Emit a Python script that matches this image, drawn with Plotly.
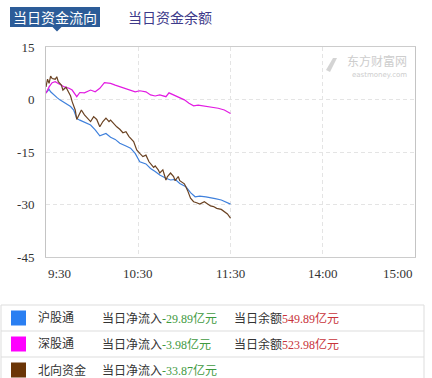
import plotly.graph_objects as go

# Intraday northbound flow, minutes after 9:30 (the lunch break is skipped on the axis)
hu_minutes = [0, 2, 3, 5, 7, 9, 11, 14, 16, 18, 20, 22, 25, 29, 32, 35, 39, 42, 45, 48,
              52, 55, 58, 61, 65, 68, 71, 74, 78, 81, 84, 87, 91, 94, 97, 100, 104, 107,
              110, 114, 117, 120]
hu_flow = [1.9, 2.9, 2.2, 1.3, 0.6, -0.1, -0.6, -1.3, -2.0, -3.0, -5.4, -5.9, -6.6, -7.3,
           -8.7, -10.4, -9.7, -10.8, -11.4, -12.5, -13.3, -13.9, -15.4, -17.8, -18.4,
           -19.7, -20.6, -21.6, -22.5, -23.0, -22.8, -24.0, -24.9, -26.6, -27.8, -27.6,
           -27.8, -28.0, -28.3, -28.7, -29.2, -29.89]

shen_minutes = [0, 2, 4, 6, 8, 10, 12, 15, 17, 20, 22, 25, 29, 32, 35, 38, 42, 45, 48, 52,
                55, 58, 61, 65, 68, 71, 74, 78, 80, 83, 86, 90, 93, 96, 99, 103, 106, 109,
                112, 116, 120]
shen_flow = [1.8, 3.6, 4.8, 5.1, 4.6, 4.1, 3.6, 3.2, 2.7, 0.8, 2.0, 1.9, 2.7, 2.2, 3.2, 4.8,
             4.6, 4.1, 3.7, 3.2, 2.7, 2.2, 2.5, 2.2, 1.3, 1.0, 1.3, 0.8, 1.9, 1.3, 0.8, -0.1,
             -1.1, -1.8, -1.6, -1.9, -2.0, -2.2, -2.5, -3.0, -3.98]

north_minutes = [0, 1, 2, 3, 4, 6, 7, 8, 10, 11, 13, 15, 16, 17, 19, 20, 22, 23, 25, 27,
                 29, 31, 33, 35, 37, 39, 41, 42, 44, 46, 48, 50, 52, 54, 57, 59, 61, 63, 65,
                 67, 70, 71, 73, 74, 76, 78, 79, 81, 83, 84, 86, 87, 90, 92, 94, 96, 98, 100,
                 103, 105, 107, 109, 111, 114, 116, 118, 120]
north_flow = [3.6, 5.8, 4.6, 6.7, 6.0, 5.8, 6.5, 5.1, 4.1, 2.7, 3.5, 1.9, 1.0, -0.6, -3.0,
              -5.7, -3.9, -3.0, -4.4, -5.3, -6.3, -4.9, -5.7, -7.8, -6.3, -5.3, -6.3, -5.9,
              -7.0, -7.8, -8.5, -9.5, -9.2, -10.6, -12.0, -14.4, -15.4, -16.3, -15.9, -17.8,
              -19.4, -19.0, -20.1, -21.0, -20.1, -23.0, -22.0, -21.0, -22.0, -23.2, -22.0,
              -23.2, -24.1, -25.9, -28.2, -29.2, -29.5, -29.9, -29.2, -29.9, -30.4, -30.6,
              -31.1, -31.4, -32.0, -32.7, -33.87]

x_tick_pos = [0, 60, 120, 180, 240]
x_tick_text = ["9:30", "10:30", "11:30", "14:00", "15:00"]
y_ticks = [15, 0, -15, -30, -45]

series_names = ["沪股通", "深股通", "北向资金"]
net_inflow = ["-29.89", "-3.98", "-33.87"]
balance = ["549.89", "523.98", None]

W, H = 432, 378
L, R, T, B = 46, 17, 47, 121
PW, PH = W - L - R, H - T - B


def px(xp):
    return (xp - L) / PW


def py(yp):
    return (H - B - yp) / PH


line_colors = ["#3f80dc", "#e21be2", "#6a4222"]
swatch_colors = ["#2a7ff2", "#ff00ff", "#6b3506"]
CJK = "Liberation Serif, Noto Sans CJK SC"

fig = go.Figure()
for xs, ys, c, n in [(hu_minutes, hu_flow, line_colors[0], series_names[0]),
                     (shen_minutes, shen_flow, line_colors[1], series_names[1]),
                     (north_minutes, north_flow, line_colors[2], series_names[2])]:
    fig.add_trace(go.Scatter(x=xs, y=ys, mode="lines", name=n,
                             line=dict(color=c, width=1.2), hoverinfo="skip"))

shapes = []
annotations = []


def label(text, x, y, size, color, family=CJK, xanchor="left", xref="paper"):
    annotations.append(dict(text=text, xref=xref, yref="paper", x=x, y=y,
                            xanchor=xanchor, yanchor="middle", showarrow=False,
                            font=dict(family=family, size=size, color=color)))


# header tabs
shapes.append(dict(type="rect", xref="paper", yref="paper", x0=px(10), x1=px(100),
                   y0=py(27), y1=py(7), fillcolor="#2c5c98", line=dict(width=0)))
shapes.append(dict(type="path", xref="paper", yref="paper",
                   path=f"M {px(52)} {py(26.5)} L {px(62)} {py(26.5)} L {px(57)} {py(31.5)} Z",
                   fillcolor="#2c5c98", line=dict(width=0)))
label("当日资金流向", px(55), py(17), 14, "white", "Noto Sans CJK SC", "center")
label("当日资金余额", px(170), py(17), 14, "#3d3a8a", "Noto Sans CJK SC", "center")

# watermark
shapes.append(dict(type="path", xref="paper", yref="paper",
                   path=(f"M {px(326)} {py(70)} L {px(333)} {py(58)} L {px(337)} {py(58)} "
                         f"L {px(330)} {py(72)} Z"),
                   fillcolor="#d4d4d4", line=dict(width=0)))
label("东方财富网", px(409), py(60), 12, "#cdcdcd", "Noto Sans CJK SC", "right")
label("eastmoney.com", px(409), py(75), 7, "#cdcdcd", "DejaVu Sans", "right")

# time labels along the bottom
anchors = ["left", "center", "center", "center", "right"]
for pos, txt, a in zip(x_tick_pos, x_tick_text, anchors):
    label(txt, pos, py(273), 13, "#333", "Liberation Serif", a, xref="x")

# summary table
row_top = [305, 331, 357]
row_h = 26
shapes.append(dict(type="rect", xref="paper", yref="paper", x0=px(1), x1=px(424),
                   y0=py(384), y1=py(305), line=dict(color="#dddddd", width=1)))
for yt in row_top[1:]:
    shapes.append(dict(type="line", xref="paper", yref="paper", x0=px(1), x1=px(424),
                       y0=py(yt), y1=py(yt), line=dict(color="#dddddd", width=1)))
for i, yt in enumerate(row_top):
    cy = yt + row_h / 2
    shapes.append(dict(type="rect", xref="paper", yref="paper", x0=px(11), x1=px(26),
                       y0=py(cy + 7.5), y1=py(cy - 7.5), fillcolor=swatch_colors[i],
                       line=dict(width=0)))
    label(series_names[i], px(36), py(cy), 12, "#333")
    label(f"当日净流入<span style='color:#3f9a3f'>{net_inflow[i]}亿元</span>",
          px(100), py(cy), 12, "#333")
    if balance[i] is not None:
        label(f"当日余额<span style='color:#c8333a'>{balance[i]}亿元</span>",
              px(232), py(cy), 12, "#333")

fig.update_layout(
    width=W, height=H, margin=dict(l=L, r=R, t=T, b=B),
    paper_bgcolor="white", plot_bgcolor="white", showlegend=False,
    shapes=shapes, annotations=annotations,
    xaxis=dict(range=[0, 240], tickvals=x_tick_pos, showticklabels=False,
               showgrid=True, gridcolor="#e4e4e4", griddash="4px,3px", gridwidth=1,
               showline=True, linecolor="#cccccc", mirror=True, zeroline=False, ticks=""),
    yaxis=dict(range=[-45, 15], tickvals=y_ticks, ticktext=[str(v) for v in y_ticks],
               showgrid=True, gridcolor="#e4e4e4", griddash="4px,3px", gridwidth=1,
               showline=True, linecolor="#c4c4c4", mirror=True, zeroline=False, ticks="",
               ticklabelstandoff=8,
               tickfont=dict(family="Liberation Serif", size=13, color="#333")),
)

fig.write_html("out.html")
